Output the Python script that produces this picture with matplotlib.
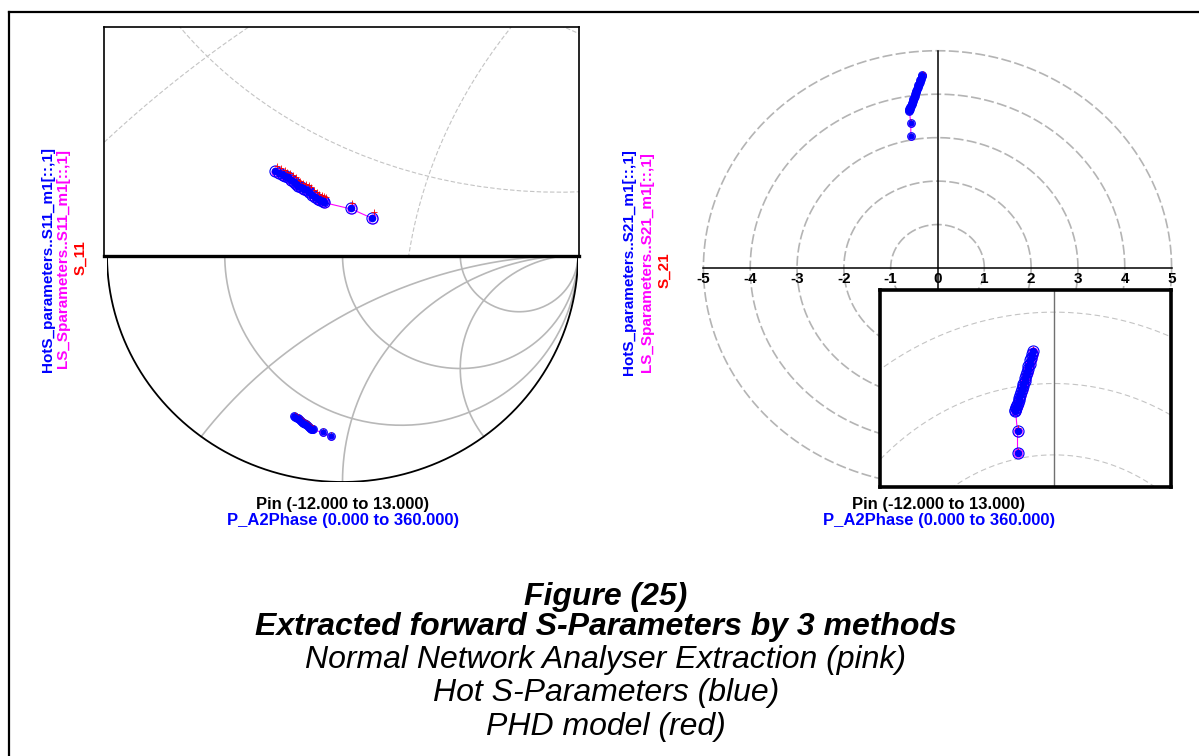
import numpy as np
import matplotlib
matplotlib.use("Agg")
import matplotlib.pyplot as plt
from matplotlib.lines import Line2D

plt.rcParams['font.family'] = ['Liberation Sans', 'DejaVu Sans']

hots_s11_re = [-0.206, -0.200, -0.194, -0.190, -0.186, -0.181, -0.176, -0.172, -0.169, -0.164,
               -0.160, -0.155, -0.151, -0.147, -0.142, -0.138, -0.134, -0.130, -0.127, -0.084, -0.050]
hots_s11_im = [-0.709, -0.713, -0.717, -0.720, -0.722, -0.727, -0.731, -0.735, -0.738, -0.741,
               -0.743, -0.746, -0.750, -0.755, -0.759, -0.762, -0.765, -0.767, -0.768, -0.780, -0.798]
ls_s11_re = [-0.204, -0.199, -0.193, -0.189, -0.185, -0.180, -0.175, -0.171, -0.168, -0.163,
             -0.159, -0.154, -0.150, -0.146, -0.141, -0.137, -0.133, -0.129, -0.126, -0.083, -0.049]
ls_s11_im = [-0.711, -0.715, -0.719, -0.722, -0.724, -0.729, -0.733, -0.737, -0.740, -0.743,
             -0.745, -0.748, -0.752, -0.757, -0.761, -0.764, -0.767, -0.769, -0.770, -0.782, -0.800]
phd_s11_re = [-0.203, -0.197, -0.191, -0.187, -0.183, -0.178, -0.173, -0.169, -0.166, -0.161,
              -0.157, -0.152, -0.148, -0.144, -0.139, -0.135, -0.131, -0.127, -0.124, -0.082, -0.047]
phd_s11_im = [-0.700, -0.704, -0.708, -0.711, -0.713, -0.718, -0.722, -0.726, -0.729, -0.732,
              -0.734, -0.737, -0.741, -0.746, -0.750, -0.753, -0.756, -0.758, -0.759, -0.770, -0.788]

# S21 traces
hots_s21_re = [-0.33, -0.34, -0.36, -0.37, -0.38, -0.40, -0.41, -0.42, -0.44, -0.45, -0.46, -0.48,
               -0.49, -0.50, -0.52, -0.53, -0.54, -0.55, -0.57, -0.58, -0.59, -0.60, -0.61, -0.61, -0.57, -0.57]
hots_s21_im = [4.45, 4.41, 4.36, 4.33, 4.28, 4.24, 4.20, 4.16, 4.12, 4.08, 4.04, 4.00,
               3.96, 3.92, 3.88, 3.84, 3.80, 3.77, 3.73, 3.70, 3.67, 3.65, 3.63, 3.62, 3.33, 3.03]
ls_s21_re = [-0.32, -0.33, -0.35, -0.36, -0.37, -0.39, -0.40, -0.41, -0.43, -0.44, -0.45, -0.47,
             -0.48, -0.49, -0.51, -0.52, -0.53, -0.54, -0.56, -0.57, -0.58, -0.59, -0.60, -0.60, -0.57, -0.57]
ls_s21_im = [4.44, 4.40, 4.35, 4.32, 4.27, 4.23, 4.19, 4.15, 4.11, 4.07, 4.03, 3.99,
             3.95, 3.91, 3.87, 3.83, 3.79, 3.76, 3.72, 3.69, 3.66, 3.64, 3.62, 3.61, 3.32, 3.02]
phd_s21_re = [-0.32, -0.33, -0.35, -0.36, -0.37, -0.39, -0.40, -0.41, -0.43, -0.44, -0.45, -0.47,
              -0.48, -0.49, -0.51, -0.52, -0.53, -0.54, -0.56, -0.57, -0.58, -0.59, -0.60, -0.60, -0.56, -0.57]
phd_s21_im = [4.48, 4.44, 4.39, 4.36, 4.31, 4.27, 4.23, 4.19, 4.15, 4.11, 4.07, 4.03,
              3.99, 3.95, 3.91, 3.87, 3.83, 3.80, 3.76, 3.73, 3.70, 3.68, 3.66, 3.65, 3.38, 3.06]

r_circles = [1/3, 1, 3]
x_arcs = [0.5, 1, 2, -0.5, -1, -2]
polar_rings = [1, 2, 3, 4, 5]
polar_ticks = [-5, -4, -3, -2, -1, 0, 1, 2, 3, 4, 5]

caption = ["Figure (25)", "Extracted forward S-Parameters by 3 methods",
           "Normal Network Analyser Extraction (pink)", "Hot S-Parameters (blue)", "PHD model (red)"]

W, H = 1199, 756
fig = plt.figure(figsize=(W / 100, H / 100), dpi=100)


def rect(x0, y0, x1, y1):
    # pixel box (top-left origin) -> figure fraction
    return [x0 / W, 1 - y1 / H, (x1 - x0) / W, (y1 - y0) / H]


def gamma(z):
    return (z - 1) / (z + 1)


def smith_grid(ax, color, lw, ls):
    t = np.concatenate([-np.logspace(3, -3, 300), np.logspace(-3, 3, 300)])
    for r in r_circles:
        g = gamma(r + 1j * t)
        ax.plot(g.real, g.imag, color=color, lw=lw, ls=ls, zorder=1)
    rr = np.concatenate([[0], np.logspace(-3, 3, 400)])
    for x in x_arcs:
        g = gamma(rr + 1j * x)
        ax.plot(g.real, g.imag, color=color, lw=lw, ls=ls, zorder=1)


def traces(ax, hre, him, lre, lim, pre, pim, big):
    ring = 8 if big else 5.5
    dot = 4.5 if big else 3.5
    ax.plot(lre, lim, color='#ff00ff', lw=0.8, marker='o', ms=ring - 1.5,
            mfc='none', mec='#ff00ff', mew=0.7, zorder=3)
    ax.plot(hre, him, ls='none', marker='o', ms=ring, mfc='none', mec='#0000ff', mew=0.8, zorder=4)
    ax.plot(hre, him, ls='none', marker='o', ms=dot, mfc='#0000ff', mec='#0000ff', zorder=5)
    ax.plot(pre, pim, ls='none', marker='+', ms=ring - 3, mec='#ff0000', mew=0.6, zorder=4)


# ---- left: Smith chart (lower half visible) ----
ax1 = fig.add_axes(rect(107, 28, 578, 482))
th = np.linspace(0, 2 * np.pi, 400)
smith_grid(ax1, '#b8b8b8', 1.2, '-')
ax1.plot(np.cos(th), np.sin(th), color='black', lw=1.3, zorder=2)
traces(ax1, hots_s11_re, hots_s11_im, ls_s11_re, ls_s11_im, phd_s11_re, phd_s11_im, False)
ax1.set_xlim(-1, 1)
ax1.set_ylim(-1, 1)
ax1.axis('off')

ax1i = fig.add_axes(rect(104, 27, 579, 256))
smith_grid(ax1i, '#c4c4c4', 0.8, (0, (4, 2)))
traces(ax1i, hots_s11_re, hots_s11_im, ls_s11_re, ls_s11_im, phd_s11_re, phd_s11_im, True)
ax1i.set_xlim(-0.481, 0.282)
ax1i.set_ylim(-0.8706, -0.4376)
ax1i.set_xticks([])
ax1i.set_yticks([])
for s in ax1i.spines.values():
    s.set_linewidth(1.2)
ax1i.spines['bottom'].set_linewidth(2.4)

# ---- right: polar plot of S21 ----
ax2 = fig.add_axes(rect(680, 29, 1195, 507))
for r in polar_rings:
    ax2.plot(r * np.cos(th), r * np.sin(th), color='#b4b4b4', lw=1.2, ls=(0, (6, 2)), zorder=1)
ax2.plot([-5, 5], [0, 0], color='black', lw=1.1, zorder=2)
ax2.plot([0, 0], [-5, 5], color='black', lw=1.1, zorder=2)
for t in polar_ticks:
    ax2.text(t, -0.25, str(t), ha='center', va='center', fontsize=11, fontweight='bold')
traces(ax2, hots_s21_re, hots_s21_im, ls_s21_re, ls_s21_im, phd_s21_re, phd_s21_im, False)
ax2.set_xlim(-5.5, 5.5)
ax2.set_ylim(-5.5, 5.5)
ax2.axis('off')

ax2i = fig.add_axes(rect(880, 290, 1171, 487))
for r in polar_rings:
    ax2i.plot(r * np.cos(th), r * np.sin(th), color='#c4c4c4', lw=0.8, ls=(0, (5, 3)), zorder=1)
ax2i.axvline(0, color='#707070', lw=1.0, zorder=1)
traces(ax2i, hots_s21_re, hots_s21_im, ls_s21_re, ls_s21_im, phd_s21_re, phd_s21_im, True)
ax2i.set_xlim(-2.72, 1.83)
ax2i.set_ylim(2.55, 5.31)
ax2i.set_xticks([])
ax2i.set_yticks([])
for s in ax2i.spines.values():
    s.set_linewidth(2.6)

# ---- axis labels ----
lab = dict(rotation=90, ha='center', va='center', fontsize=11, fontweight='bold')
fig.text(48 / W, 1 - 259 / H, "HotS_parameters..S11_m1[::,1]", color='#0000ff', **lab)
fig.text(63 / W, 1 - 259 / H, "LS_Sparameters..S11_m1[::,1]", color='#ff00ff', **lab)
fig.text(80 / W, 1 - 258 / H, "S_11", color='#ff0000', **lab)
fig.text(629 / W, 1 - 262 / H, "HotS_parameters..S21_m1[::,1]", color='#0000ff', **lab)
fig.text(647 / W, 1 - 262 / H, "LS_Sparameters..S21_m1[::,1]", color='#ff00ff', **lab)
fig.text(664 / W, 1 - 270 / H, "S_21", color='#ff0000', **lab)

xl = dict(ha='center', va='center', fontsize=12, fontweight='bold')
for cx in (343, 939):
    fig.text(cx / W, 1 - 504 / H, "Pin (-12.000 to 13.000)", color='black', **xl)
    fig.text(cx / W, 1 - 520 / H, "P_A2Phase (0.000 to 360.000)", color='#0000ff', **xl)

# ---- caption ----
cap_y = [597, 627, 660, 693, 727]
for i, (txt, y) in enumerate(zip(caption, cap_y)):
    fig.text(606 / W, 1 - y / H, txt, ha='center', va='center', fontsize=23,
             style='italic', fontweight='bold' if i < 2 else 'normal')

# page frame (top and left edges)
fig.add_artist(Line2D([9 / W, 1], [1 - 12 / H, 1 - 12 / H], color='black', lw=1.6))
fig.add_artist(Line2D([9 / W, 9 / W], [0, 1 - 12 / H], color='black', lw=1.6))

fig.savefig("out.png", dpi=100)
